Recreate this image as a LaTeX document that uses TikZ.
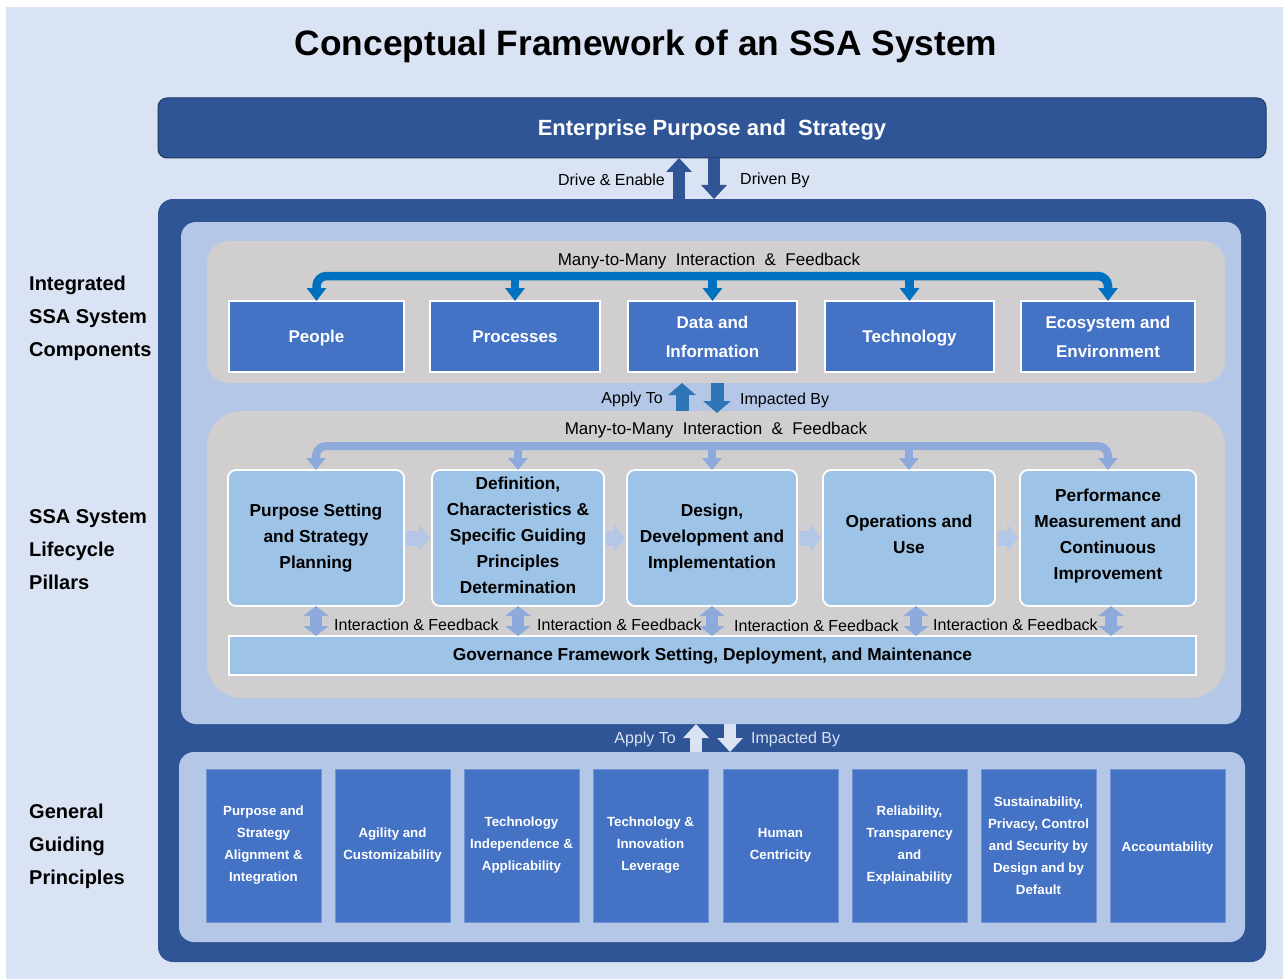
\documentclass[tikz,border=0pt]{standalone}
\usepackage{fontspec}
\setmainfont{Liberation Sans}
\usetikzlibrary{arrows.meta,calc}

\definecolor{pagebg}{HTML}{DAE3F3}
\definecolor{navy}{HTML}{2F5597}
\definecolor{navyedge}{HTML}{203864}
\definecolor{paleblue}{HTML}{B4C7E7}
\definecolor{panelgray}{HTML}{D0CECE}
\definecolor{compblue}{HTML}{4472C4}
\definecolor{linkblue}{HTML}{0070C0}
\definecolor{midblue}{HTML}{2E75B6}
\definecolor{pillar}{HTML}{9DC3E6}
\definecolor{softlink}{HTML}{8EA9DB}
\definecolor{stepflow}{HTML}{B4C7E7}

\newcommand\fsz[2]{\fontsize{#1}{#2}\selectfont}

\tikzset{
  frame/.style={inner sep=0pt, outer sep=0pt},
  compbox/.style={fill=compblue, draw=white, line width=1.5pt, text=white,
    font=\bfseries\fsz{17}{29}, align=center, inner sep=0pt, outer sep=0pt,
    minimum height=71pt},
  oneline/.style={text height=12pt, text depth=1pt},
  pillarbox/.style={fill=pillar, draw=white, line width=1.8pt, rounded corners=8pt,
    font=\bfseries\fsz{17.3}{26}, align=center, inner sep=0pt, outer sep=0pt,
    minimum height=136pt},
  principle/.style={fill=compblue, draw=compblue!75!white, line width=0.8pt, text=white,
    font=\bfseries\fsz{13.3}{22}, align=center, inner sep=0pt, outer sep=0pt,
    minimum width=115pt, minimum height=153pt},
  sidelabel/.style={font=\bfseries\fsz{20}{33}, align=left, anchor=west, inner sep=0pt},
  flowlabel/.style={font=\fsz{16}{19}, inner sep=0pt},
  blockup/.style={line width=12pt, -{Triangle[width=25pt,length=14pt]}},
  midarrow/.style={midblue, line width=13pt, -{Triangle[width=27pt,length=12pt]}},
  linkbar/.style={linkblue, line width=8.5pt, rounded corners=10pt},
  linktip/.style={-{Triangle[width=19pt,length=13pt]}},
  softbar/.style={softlink, line width=8pt, rounded corners=10pt},
  softtip/.style={-{Triangle[width=19pt,length=12pt]}},
  stepflowarrow/.style={stepflow, line width=15pt, -{Triangle[width=27pt,length=11pt]}},
  twoway/.style={softlink, line width=12pt,
    {Triangle[width=25pt,length=10pt]}-{Triangle[width=25pt,length=10pt]}},
}

\begin{document}
\begin{tikzpicture}[x=1pt,y=-1pt]
\useasboundingbox (0,0) rectangle (1283,979);
\fill[white] (0,0) rectangle (1283,979);
\fill[pagebg] (6,7) rectangle (1283,979);

% title
\node[font=\bfseries\fsz{35.3}{40}, inner sep=0pt] (title) at (646,46)
  {Conceptual Framework of an SSA System};

% enterprise strategy bar
\node[frame, draw=navyedge, fill=navy, line width=1pt, rounded corners=9pt,
  minimum width=1108pt, minimum height=60pt] (ent) at (712,128) {};
\node[inner sep=0pt, text=white, font=\bfseries\fsz{22}{26}] (entlbl) at (712,129.5)
  {Enterprise Purpose and\ \ Strategy};

% nested containers
\node[frame, fill=navy, rounded corners=15pt, minimum width=1108pt, minimum height=763pt]
  (core) at (712,580.5) {};
\node[frame, fill=paleblue, rounded corners=15pt, minimum width=1060pt, minimum height=502pt]
  (inner) at (711,473) {};
\node[frame, fill=panelgray, rounded corners=22pt, minimum width=1018pt, minimum height=142pt]
  (comppanel) at (716,312) {};
\node[frame, fill=panelgray, rounded corners=35pt, minimum width=1018pt, minimum height=287pt]
  (lifepanel) at (716,554.5) {};
\node[frame, fill=paleblue, rounded corners=15pt, minimum width=1066pt, minimum height=190pt]
  (basepanel) at (712,847) {};

% side labels
\node[sidelabel] (lblcomp) at (29,318.5) {Integrated\\SSA System\\Components};
\node[sidelabel] (lbllife) at (29,550) {SSA System\\Lifecycle\\Pillars};
\node[sidelabel] (lblbase) at (29,846) {General\\Guiding\\Principles};

% enterprise <-> system
\coordinate (xdrive) at (679,0);
\coordinate (xdriven) at (714,0);
\draw[navy, blockup] (core.north -| xdrive) -- (ent.south -| xdrive);
\draw[navy, blockup] (ent.south -| xdriven) -- (core.north -| xdriven);
\node[flowlabel, anchor=east] (drivelbl) at (665,179.5) {Drive \& Enable};
\node[flowlabel, anchor=west] (drivenlbl) at (740,180.5) {Driven By};

% system components
\node[compbox, oneline, minimum width=175pt] (people) at (316.5,336.5) {People};
\node[compbox, oneline, minimum width=170pt] (procs) at (515,336.5) {Processes};
\node[compbox, minimum width=169pt] (data) at (712.5,336.5) {Data and\\Information};
\node[compbox, oneline, minimum width=169pt] (tech) at (909.5,336.5) {Technology};
\node[compbox, minimum width=174pt] (eco) at (1108,336.5) {Ecosystem and\\Environment};

\coordinate (bartop) at (0,276);
\draw[linkbar, {Triangle[width=19pt,length=13pt]}-{Triangle[width=19pt,length=13pt]}]
  (people.north) -- (people.north |- bartop) -- (eco.north |- bartop) -- (eco.north);
\draw[linkblue, line width=8.5pt, linktip] (procs.north |- bartop) -- (procs.north);
\draw[linkblue, line width=8.5pt, linktip] (data.north |- bartop) -- (data.north);
\draw[linkblue, line width=8.5pt, linktip] (tech.north |- bartop) -- (tech.north);
\node[font=\fsz{17}{20}, inner sep=0pt] (complbl) at (709,261)
  {Many-to-Many\ \ Interaction\ \ \&\ \ Feedback};

% components <-> lifecycle
\coordinate (xapply) at (682,0);
\coordinate (ximpact) at (717,0);
\draw[midarrow] (lifepanel.north -| xapply) -- (comppanel.south -| xapply);
\draw[midarrow] (comppanel.south -| ximpact) -- ([yshift=-2pt]lifepanel.north -| ximpact);
\node[flowlabel, anchor=east] (applylbl) at (663,399) {Apply To};
\node[flowlabel, anchor=west] (impactlbl) at (740,400) {Impacted By};

% lifecycle pillars
\node[pillarbox, minimum width=176pt] (plan) at (316,538) {Purpose Setting\\and Strategy\\Planning};
\node[pillarbox, minimum width=172pt] (define) at (518,538)
  {Definition,\\Characteristics \&\\Specific Guiding\\Principles\\Determination\vspace{5pt}};
\node[pillarbox, minimum width=170pt] (build) at (712,538) {Design,\\Development and\\Implementation};
\node[pillarbox, minimum width=172pt] (operate) at (909,538) {Operations and\\Use\vspace{8pt}};
\node[pillarbox, minimum width=176pt] (improve) at (1108,538)
  {Performance\\Measurement and\\Continuous\\Improvement\vspace{3pt}};

\coordinate (barlife) at (0,446);
\draw[softbar, {Triangle[width=19pt,length=12pt]}-{Triangle[width=19pt,length=12pt]}]
  (plan.north) -- (plan.north |- barlife) -- (improve.north |- barlife) -- (improve.north);
\draw[softlink, line width=8pt, softtip] (define.north |- barlife) -- (define.north);
\draw[softlink, line width=8pt, softtip] (build.north |- barlife) -- (build.north);
\draw[softlink, line width=8pt, softtip] (operate.north |- barlife) -- (operate.north);
\node[font=\fsz{17}{20}, inner sep=0pt] (lifelbl) at (716,430)
  {Many-to-Many\ \ Interaction\ \ \&\ \ Feedback};

\draw[stepflowarrow, shorten <=2pt, shorten >=2pt] (plan.east) -- (define.west);
\draw[stepflowarrow, shorten <=2pt, shorten >=2pt] (define.east) -- (build.west);
\draw[stepflowarrow, shorten <=2pt, shorten >=2pt] (build.east) -- (operate.west);
\draw[stepflowarrow, shorten <=2pt, shorten >=2pt] (operate.east) -- (improve.west);

\node[fill=pillar, draw=white, line width=1.5pt, inner sep=0pt, outer sep=0pt,
  minimum width=967pt, minimum height=39pt, font=\bfseries\fsz{17.3}{20},
  text height=12pt, text depth=2pt]
  (gov) at (712.5,655.5) {Governance Framework Setting, Deployment, and Maintenance};

\draw[twoway] (plan.south) -- (plan.south |- gov.north);
\draw[twoway] (define.south) -- (define.south |- gov.north);
\draw[twoway] (build.south) -- (build.south |- gov.north);
\draw[twoway] ([xshift=7pt]operate.south) -- ([xshift=7pt]operate.south |- gov.north);
\draw[twoway] ([xshift=3pt]improve.south) -- ([xshift=3pt]improve.south |- gov.north);
\node[flowlabel, anchor=west] (fb1) at (334,624.5) {Interaction \& Feedback};
\node[flowlabel, anchor=west] (fb2) at (537,624.5) {Interaction \& Feedback};
\node[flowlabel, anchor=west] (fb3) at (734,625.5) {Interaction \& Feedback};
\node[flowlabel, anchor=west] (fb4) at (933,624.5) {Interaction \& Feedback};

% lifecycle <-> principles
\coordinate (xapplyb) at (696,0);
\coordinate (ximpactb) at (730,0);
\draw[pagebg, blockup] (basepanel.north -| xapplyb) -- (inner.south -| xapplyb);
\draw[pagebg, blockup] (inner.south -| ximpactb) -- (basepanel.north -| ximpactb);
\node[flowlabel, anchor=east, text=pagebg] (applylblb) at (676,739.5) {Apply To};
\node[flowlabel, anchor=west, text=pagebg] (impactlblb) at (751,739.5) {Impacted By};

% general guiding principles
\node[principle] (gp1) at (263.5,845.5) {Purpose and\\Strategy\\Alignment \&\\Integration};
\node[principle] (gp2) at (392.5,845.5) {Agility and\\Customizability};
\node[principle] (gp3) at (521.5,845.5) {Technology\\Independence \&\\Applicability};
\node[principle] (gp4) at (650.5,845.5) {Technology \&\\Innovation\\Leverage};
\node[principle] (gp5) at (780.5,845.5) {Human\\Centricity};
\node[principle] (gp6) at (909.5,845.5) {Reliability,\\Transparency\\and\\Explainability};
\node[principle] (gp7) at (1038.5,845.5)
  {Sustainability,\\Privacy, Control\\and Security by\\Design and by\\Default};
\node[principle, oneline] (gp8) at (1167.5,845.5) {Accountability};
\end{tikzpicture}
\end{document}
